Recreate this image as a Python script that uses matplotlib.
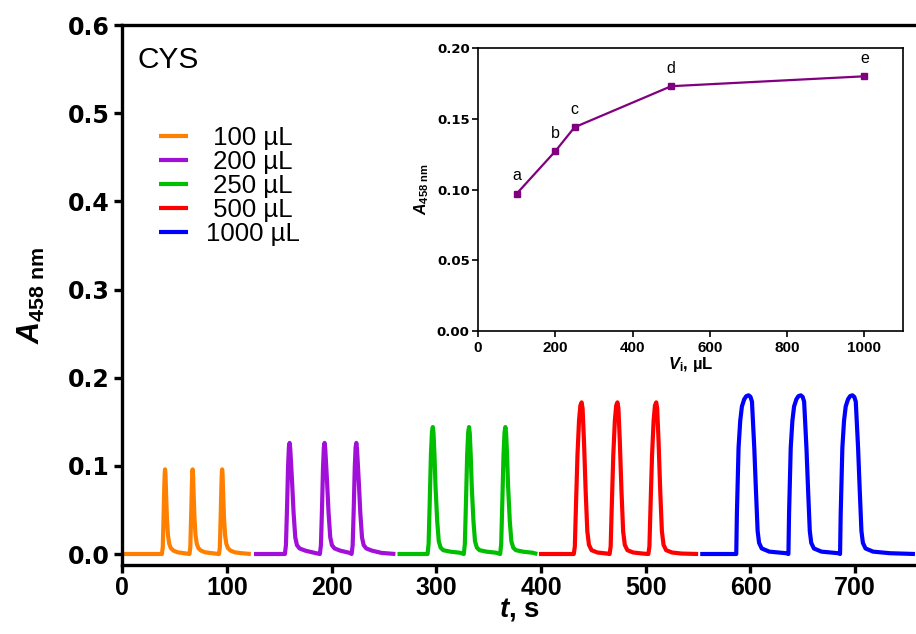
import matplotlib
matplotlib.use('Agg')
import matplotlib.pyplot as plt

plt.rcParams['font.family'] = ['Liberation Sans', 'DejaVu Sans']
plt.rcParams['mathtext.fontset'] = 'custom'
plt.rcParams['mathtext.rm'] = 'Liberation Sans:bold'
plt.rcParams['mathtext.it'] = 'Liberation Sans:bold:italic'
plt.rcParams['mathtext.bf'] = 'Liberation Sans:bold'

# injection volumes and colours of the five runs
labels = [' 100 µL', ' 200 µL', ' 250 µL', ' 500 µL', '1000 µL']
colors = ['#FF8000', '#A10FD9', '#00BF00', '#FF0000', '#0000FF']

# start / end of each recorded segment (s)
seg_start = [0, 126, 263, 398, 552]
seg_end = [123, 261, 396.5, 550, 757]

# apex times (s) and peak heights of the triplicate injections
peak_times = [[41.1, 67.4, 95.6],
              [160.0, 193.4, 223.7],
              [296.7, 331.3, 366.0],
              [438.8, 473.0, 510.0],
              [598.2, 648.0, 697.3]]
peak_heights = [0.096, 0.126, 0.144, 0.172, 0.180]

# peak profile: time from apex (s) and fraction of height
prof_dt = [[-3.0, -2.2, -1.4, -0.7, -0.3, 0, 0.4, 1.0, 1.8, 2.8, 4.0, 5.5, 8, 12, 18],
           [-4.5, -3.5, -2.5, -1.5, -0.7, 0, 0.6, 1.5, 2.3, 3.8, 5.4, 7.0, 9.5, 15, 24],
           [-5.0, -4.0, -2.9, -1.8, -0.8, 0, 0.7, 1.6, 2.6, 4.2, 5.7, 7.5, 10, 17, 26],
           [-7.5, -6.5, -5.5, -4.0, -2.5, -1.2, 0, 0.9, 2.2, 3.8, 5.4, 7.0, 9.5, 15, 24],
           [-11.8, -11.2, -9.6, -8.0, -6.4, -4.2, -2.2, 0, 1.8, 3.2, 5.4, 7.0, 8.6, 10.0, 12.5, 19.7, 35.7]]
prof_fr = [[0, 0.08, 0.45, 0.82, 0.96, 1.0, 0.94, 0.7, 0.42, 0.22, 0.12, 0.07, 0.04, 0.02, 0.01],
           [0, 0.08, 0.4, 0.78, 0.96, 1, 0.95, 0.8, 0.66, 0.37, 0.15, 0.08, 0.05, 0.03, 0.01],
           [0, 0.08, 0.42, 0.78, 0.96, 1, 0.95, 0.78, 0.53, 0.26, 0.1, 0.05, 0.03, 0.018, 0.01],
           [0, 0.05, 0.3, 0.65, 0.88, 0.98, 1, 0.96, 0.75, 0.42, 0.15, 0.06, 0.025, 0.01, 0.003],
           [0, 0.25, 0.67, 0.84, 0.93, 0.975, 0.995, 1, 0.99, 0.96, 0.67, 0.4, 0.145, 0.07, 0.035, 0.015, 0.005]]

# inset: peak height vs injected volume
vol = [100, 200, 250, 500, 1000]
a458 = [0.097, 0.127, 0.144, 0.173, 0.180]
pt_labels = ['a', 'b', 'c', 'd', 'e']

fig = plt.figure(figsize=(9.16, 6.34), dpi=100)
ax = fig.add_axes([0.1332, 0.1088, 0.8668, 0.8517])

for i in range(5):
    t = [seg_start[i]]
    a = [0.0]
    for p in peak_times[i]:
        for dt, fr in zip(prof_dt[i], prof_fr[i]):
            t.append(p + dt)
            a.append(peak_heights[i] * fr)
    t.append(seg_end[i])
    a.append(0.0)
    ax.plot(t, a, color=colors[i], lw=3.0, label=labels[i],
            solid_joinstyle='round', solid_capstyle='butt')

ax.set_xlim(0, 758)
ax.set_ylim(-0.0125, 0.6)
ax.set_xticks(range(0, 800, 100))
ax.set_yticks([0, 0.1, 0.2, 0.3, 0.4, 0.5, 0.6])
ax.set_yticklabels(['0.0', '0.1', '0.2', '0.3', '0.4', '0.5', '0.6'])
for s in ['left', 'bottom', 'top']:
    ax.spines[s].set_linewidth(2.4)
ax.spines['right'].set_visible(False)
ax.tick_params(axis='both', width=2.4, length=6, top=False)
ax.tick_params(axis='x', labelsize=18, pad=2)
ax.tick_params(axis='y', labelsize=17, pad=3)
for lab in ax.get_xticklabels():
    lab.set_fontweight('bold')
for lab in ax.get_yticklabels():
    lab.set_fontweight('bold')
    lab.set_family('DejaVu Sans')
ax.set_xlabel(r'$\it{t}$, s', fontsize=20, fontweight='bold', labelpad=-3)
ax.set_ylabel(r'$\it{A}_{\rm{458\ nm}}$', fontsize=22, fontweight='bold', labelpad=15)

ax.text(15, 0.56, 'CYS', fontsize=21.5, va='center', ha='left')
leg = ax.legend(loc='upper left', bbox_to_anchor=(0.018, 0.855), frameon=False,
                fontsize=18.5, handlelength=1.13, handletextpad=0.7, labelspacing=0.0)
for line in leg.get_lines():
    line.set_linewidth(3)

# inset
ins = fig.add_axes([0.5218, 0.4779, 0.464, 0.4464])
ins.plot(vol, a458, color='#800080', lw=1.6, marker='s', ms=4.5)
for x, y, s in zip(vol, a458, pt_labels):
    ins.annotate(s, (x, y), xytext=(0, 13), textcoords='offset points',
                 ha='center', va='center', fontsize=11.5)
ins.set_xlim(0, 1100)
ins.set_ylim(0, 0.2)
ins.set_xticks([0, 200, 400, 600, 800, 1000])
ins.set_yticks([0, 0.05, 0.10, 0.15, 0.20])
ins.set_yticklabels(['0.00', '0.05', '0.10', '0.15', '0.20'])
for s in ins.spines.values():
    s.set_linewidth(1.2)
ins.tick_params(width=1.2, length=4)
ins.tick_params(axis='x', labelsize=11, pad=3)
ins.tick_params(axis='y', labelsize=9.5, pad=2)
for lab in ins.get_xticklabels():
    lab.set_fontweight('bold')
for lab in ins.get_yticklabels():
    lab.set_fontweight('bold')
    lab.set_family('DejaVu Sans')
ins.set_xlabel(r'$\it{V}_{\rm{i}}$, µL', fontsize=12, fontweight='bold', labelpad=0)
ins.set_ylabel(r'$\it{A}_{\rm{458\ nm}}$', fontsize=11.5, fontweight='bold', labelpad=4)

fig.savefig('out.png', dpi=100)
